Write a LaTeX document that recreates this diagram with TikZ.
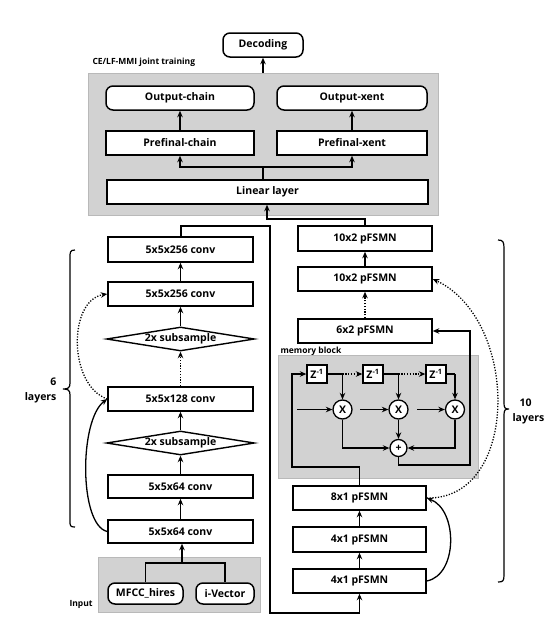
\documentclass[tikz,border=0pt]{standalone}
\usepackage{fontspec}
\setmainfont{Open Sans}
\usetikzlibrary{arrows.meta,shapes.geometric,calc}
\begin{document}
\begin{tikzpicture}[x=1pt,y=-1pt,
  >={Stealth[length=6.5pt,width=5.5pt]},
  every node/.style={font=\fontsize{10.5}{12}\selectfont\bfseries},
  blk/.style={draw,line width=1.5pt,fill=white,minimum height=24pt,inner sep=0pt},
  rblk/.style={blk,rounded corners=7pt},
  dia/.style={draw,line width=1.4pt,fill=white,diamond,aspect=6,inner sep=0pt,minimum width=148pt,minimum height=24pt},
  grayreg/.style={draw=gray!55,fill=gray!35,line width=0.6pt},
  lbl/.style={font=\fontsize{8.5}{10}\selectfont\bfseries},
  ln/.style={line width=1.3pt},
  dln/.style={line width=1.3pt,dash pattern=on 1.2pt off 1.6pt},
  zbox/.style={draw,line width=1.3pt,fill=white,minimum width=20pt,minimum height=18pt,inner sep=0pt},
  op/.style={draw,line width=1.3pt,fill=white,circle,inner sep=0pt,minimum size=19pt},
]
\useasboundingbox (0,0) rectangle (559,619);
\fill[white] (0,0) rectangle (559,619);

% ---------- top: joint training ----------
\node[rblk,minimum width=80pt] (dec) at (263,45) {Decoding};
\node[grayreg,minimum width=350pt,minimum height=142pt,inner sep=0pt] (jt) at (263,144) {};
\node[lbl,anchor=west] (jtl) at (89,62) {CE/LF-MMI joint training};
\node[rblk,minimum width=148pt] (oc) at (180,98) {Output-chain};
\node[rblk,minimum width=150pt] (ox) at (352,98) {Output-xent};
\node[blk,minimum width=148pt] (pc) at (180,143) {Prefinal-chain};
\node[blk,minimum width=150pt] (px) at (352,143) {Prefinal-xent};
\node[blk,minimum width=321pt] (lin) at (267.5,192) {Linear layer};

\draw[ln,->] (jt.north -| dec.south) -- (dec.south);
\coordinate (sp) at (263,167);
\draw[ln] (lin.north -| sp) -- (sp);
\draw[ln,->] (sp) -| (pc.south);
\draw[ln,->] (sp) -| (px.south);
\draw[ln,->] (pc.north) -- (oc.south);
\draw[ln,->] (px.north) -- (ox.south);

% ---------- left column: CNN ----------
\node[blk,minimum width=145pt,minimum height=25pt] (c1) at (180.5,249.5) {5x5x256 conv};
\node[blk,minimum width=145pt] (c2) at (180.5,294) {5x5x256 conv};
\node[dia] (d1) at (180.5,339) {2x subsample};
\node[blk,minimum width=145pt] (c3) at (180.5,399) {5x5x128 conv};
\node[dia] (d2) at (180.5,443) {2x subsample};
\node[blk,minimum width=145pt,minimum height=23pt] (c4) at (180.5,486.5) {5x5x64 conv};
\node[blk,minimum width=145pt,minimum height=23pt] (c5) at (180.5,531.5) {5x5x64 conv};

\node[grayreg,minimum width=162pt,minimum height=55pt,inner sep=0pt] (inp) at (179,584.5) {};
\node[lbl,anchor=west] (inpl) at (66,604) {Input};
\node[rblk,minimum width=75pt,minimum height=21pt] (mf) at (145.5,593.5) {MFCC\_hires};
\node[rblk,minimum width=58pt,minimum height=21pt] (iv) at (225,593.5) {i-Vector};
\coordinate (ij) at (182,563);
\draw[ln] (mf.north) -- (mf.north |- ij) -- (iv.north |- ij) -- (iv.north);
\draw[ln,->] (ij) -- (c5.south -| ij);

\draw[ln,->] (c5.north) -- (c4.south);
\draw[ln,->] (c4.north) -- (d2.south);
\draw[ln,->] (d2.north) -- (c3.south);
\draw[dln,->] (c3.north) -- (d1.south);
\draw[ln,->] (d1.north) -- (c2.south);
\draw[ln,->] (c2.north) -- (c1.south);

\draw[ln,->] (c5.west) .. controls (79,525) and (79,420) .. (c3.west);
\draw[dln,->] (c3.west) .. controls (68,385) and (68,300) .. (c2.west);

% left brace
\draw[line width=1.2pt] (75,250) .. controls (70,250) and (70,252) .. (70,258)
  -- (70,383) .. controls (70,388) and (68,389) .. (63,389)
  .. controls (68,389) and (70,390) .. (70,395)
  -- (70,520) .. controls (70,526) and (70,527) .. (75,527);
\node[anchor=east,align=right,font=\fontsize{10.5}{15}\selectfont\bfseries] (six) at (60,390) {6\\layers};

% ---------- right column: pFSMN ----------
\node[blk,minimum width=134pt,minimum height=25pt] (p1) at (365,238.5) {10x2 pFSMN};
\node[blk,minimum width=134pt] (p2) at (365,279) {10x2 pFSMN};
\node[blk,minimum width=134pt] (p3) at (365,331) {6x2 pFSMN};
\node[grayreg,minimum width=200pt,minimum height=123pt,inner sep=0pt] (mb) at (378,416.5) {};
\node[lbl,anchor=west] (mbl) at (277,351) {memory block};
\node[blk,minimum width=133pt] (b3) at (359.5,498) {8x1 pFSMN};
\node[blk,minimum width=133pt,minimum height=25pt] (b2) at (359.5,539.5) {4x1 pFSMN};
\node[blk,minimum width=133pt] (b1) at (359.5,581) {4x1 pFSMN};

\draw[ln,->] (b1.north) -- (b2.south);
\draw[ln,->] (b2.north) -- (b3.south);
\draw[dln,->] (p3.north) -- (p2.south);
\draw[ln,->] (p2.north) -- (p1.south);

% connection from CNN to pFSMN
\coordinate (k1) at (181,226);
\coordinate (k2) at (270,226);
\coordinate (k3) at (270,613);
\draw[ln,->] (c1.north -| k1) -- (k1) -- (k2) -- (k3) -| (b1.south);
% pFSMN top to linear layer
\coordinate (t1) at (267,219);
\draw[ln,->] (p1.north) |- (t1) -- (lin.south -| t1);

% skip curves
\draw[ln,->] (b1.east) .. controls (458,575) and (458,510) .. (b3.east);
\draw[dln,->] (b3.east) .. controls (520,500) and (520,320) .. (p2.east);

% memory block internals
\node[zbox] (z1) at (317,374) {Z\textsuperscript{-1}};
\node[zbox] (z2) at (373,374) {Z\textsuperscript{-1}};
\node[zbox] (z3) at (436,374) {Z\textsuperscript{-1}};
\node[op] (x1) at (342.5,409.5) {X};
\node[op] (x2) at (398.5,409.5) {X};
\node[op] (x3) at (455,409.5) {X};
\node[op,minimum size=17pt] (pl) at (398.5,448) {+};

\coordinate (ml1) at (292,467);
\draw[ln,->] (b3.north) |- (ml1) |- (z1.west);
\coordinate (j1) at (x1 |- z1);
\coordinate (j2) at (x2 |- z2);
\coordinate (j3) at (x3 |- z3);
\draw[ln] (z1.east) -- (j1);
\draw[ln,->] (j1) -- (x1.north);
\draw[dln,->] (j1) -- (z2.west);
\draw[ln] (z2.east) -- (j2);
\draw[ln,->] (j2) -- (x2.north);
\draw[dln,->] (j2) -- (z3.west);
\draw[ln] (z3.east) -- (j3);
\draw[ln,->] (j3) -- (x3.north);

\coordinate (in1) at (297,409.5);
\coordinate (in2) at (360,409.5);
\coordinate (in3) at (417,409.5);
\draw[ln,->] (in1) -- (x1.west);
\draw[ln,->] (in2) -- (x2.west);
\draw[ln,->] (in3) -- (x3.west);
\draw[ln,->] (x2.south) -- (pl.north);
\draw[ln,->] (x1.south) |- (pl.west);
\draw[ln,->] (x3.south) |- (pl.east);
\coordinate (o1) at (398.5,465);
\coordinate (o2) at (470,465);
\draw[ln,->] (pl.south) -- (o1) -- (o2) |- (p3.east);

% right brace
\draw[line width=1.2pt] (498,240) .. controls (503,240) and (504,242) .. (504,248)
  -- (504,403) .. controls (504,408) and (505,409) .. (509,409)
  .. controls (505,409) and (504,410) .. (504,415)
  -- (504,575) .. controls (504,581) and (503,582) .. (498,582);
\node[anchor=west,align=left,font=\fontsize{10.5}{15}\selectfont\bfseries] (ten) at (509,411) {\hspace*{7pt}10\\layers};
\end{tikzpicture}
\end{document}
